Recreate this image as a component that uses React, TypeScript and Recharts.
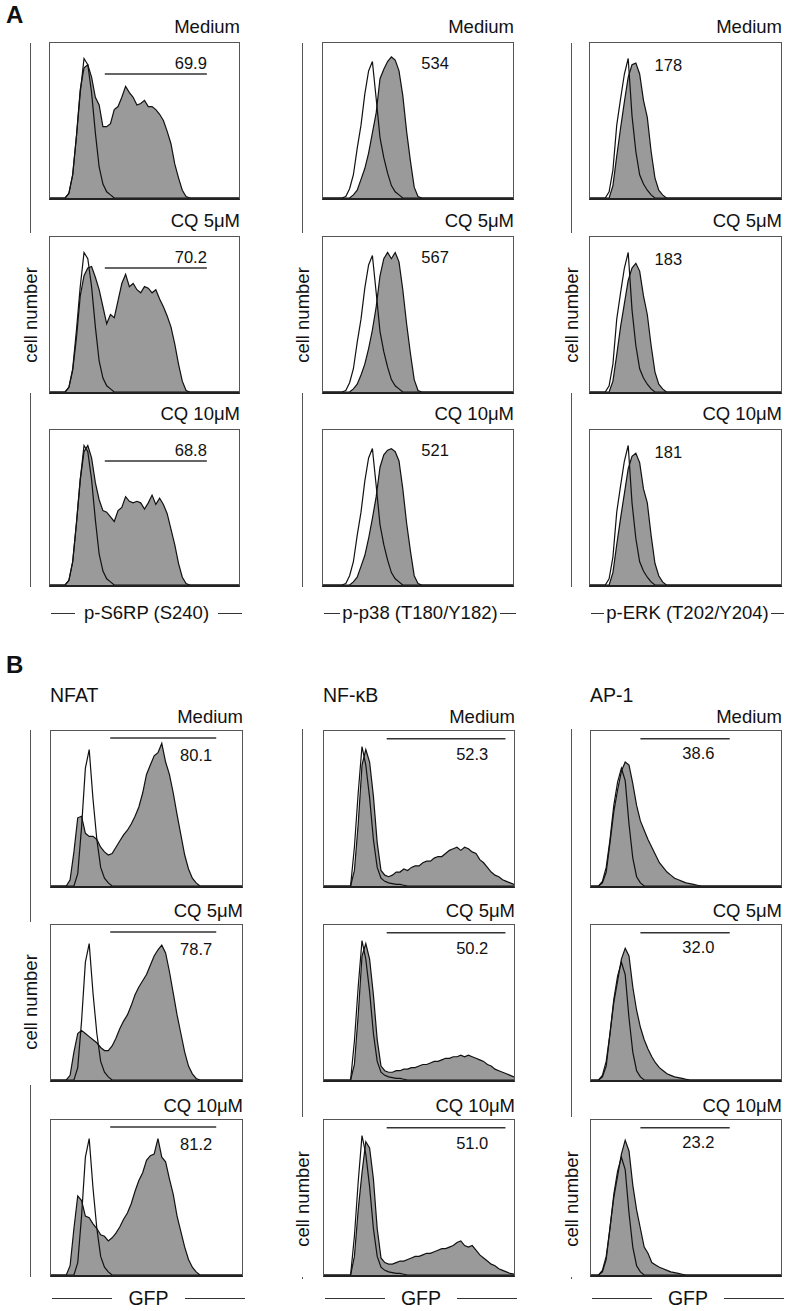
import React from "react";
import { Area, ComposedChart, Line, ReferenceDot, ReferenceLine, XAxis, YAxis } from "recharts";

const FONT = '"Liberation Sans", Arial, Helvetica, sans-serif';

// histogram bins, % of the axis width
const bins = Array.from({ length: 51 }, (_, i) => i * 2);
const pad = (vals: number[]) => [...vals, ...Array(51 - vals.length).fill(0)];

const rowLabels = ["Medium", "CQ 5μM", "CQ 10μM"];

// --- A: p-S6RP (S240)
const s6Ctrl = pad([0, 0, 0, 0, 0, 3, 15, 40, 68, 90, 86, 68, 42, 20, 9, 4, 2]);
const s6Medium = pad([0, 0, 0, 0, 0, 3, 15, 40, 70, 84, 86, 78, 65, 60, 46, 46, 48, 57, 59, 65, 72, 68, 65, 60, 61, 63, 59, 59, 57, 54, 50, 43, 35, 22, 13, 5, 1]);
const s6Cq5 = pad([0, 0, 0, 0, 0, 3, 14, 35, 62, 75, 80, 81, 74, 66, 55, 44, 50, 48, 59, 70, 76, 68, 70, 66, 64, 68, 67, 64, 66, 60, 55, 49, 42, 31, 18, 7, 1]);
const s6Cq10 = pad([0, 0, 0, 0, 0, 3, 15, 40, 68, 86, 90, 82, 66, 55, 48, 47, 44, 41, 48, 50, 57, 54, 53, 54, 53, 49, 53, 58, 52, 56, 52, 46, 36, 26, 14, 5, 1]);
const s6Values = ["69.9", "70.2", "68.8"];

// --- A: p-p38 (T180/Y182)
const p38Ctrl = pad([0, 0, 0, 0, 0, 0, 1, 6, 15, 32, 47, 67, 82, 88, 64, 39, 26, 16, 8, 4, 2]);
const p38Medium = pad([0, 0, 0, 0, 0, 0, 0, 0, 2, 5, 12, 19, 29, 42, 55, 77, 83, 88, 91, 89, 82, 66, 43, 24, 7, 1]);
const p38Cq5 = pad([0, 0, 0, 0, 0, 0, 0, 0, 2, 5, 11, 18, 28, 40, 55, 75, 86, 90, 86, 90, 84, 66, 44, 25, 8, 1]);
const p38Cq10 = pad([0, 0, 0, 0, 0, 0, 0, 0, 2, 5, 12, 19, 30, 43, 57, 76, 84, 87, 88, 86, 80, 62, 40, 22, 6, 1]);
const p38Values = ["534", "567", "521"];

// --- A: p-ERK (T202/Y204)
const erkCtrl = pad([0, 0, 0, 0, 0, 4, 18, 47, 64, 80, 90, 53, 30, 15, 9, 5, 2]);
const erkMedium = pad([0, 0, 0, 0, 0, 0, 8, 27, 45, 62, 78, 86, 87, 80, 63, 52, 30, 13, 5, 2]);
const erkCq5 = pad([0, 0, 0, 0, 0, 0, 7, 24, 42, 57, 72, 80, 83, 78, 62, 50, 30, 13, 5, 2]);
const erkCq10 = pad([0, 0, 0, 0, 0, 0, 8, 26, 43, 59, 75, 83, 85, 79, 62, 53, 32, 14, 6, 2]);
const erkValues = ["178", "183", "181"];

// --- B: NFAT
const nfatCtrl = pad([0, 0, 0, 0, 0, 0, 0, 8, 38, 76, 88, 56, 30, 12, 5, 2]);
const nfatMedium = pad([0, 0, 0, 0, 0, 4, 22, 44, 45, 34, 32, 32, 30, 25, 22, 20, 21, 25, 29, 33, 36, 40, 45, 51, 60, 72, 78, 84, 86, 92, 80, 72, 60, 46, 33, 20, 11, 5, 2]);
const nfatCq5 = pad([0, 0, 0, 0, 0, 3, 18, 30, 32, 30, 28, 26, 24, 21, 19, 19, 22, 27, 33, 38, 42, 48, 55, 60, 64, 68, 74, 80, 84, 87, 82, 70, 56, 42, 30, 18, 9, 4, 1]);
const nfatCq10 = pad([0, 0, 0, 0, 0, 6, 30, 51, 48, 38, 37, 33, 30, 26, 25, 22, 24, 27, 31, 36, 40, 46, 54, 61, 66, 74, 77, 78, 88, 76, 73, 62, 52, 38, 28, 18, 10, 5, 2]);
const nfatValues = ["80.1", "78.7", "81.2"];

// --- B: NF-κB
const nfkbCtrl = pad([0, 0, 0, 0, 0, 0, 0, 0, 25, 60, 90, 78, 57, 30, 12, 5, 3, 2, 1.5, 1, 1, 0.5]);
const nfkbMedium = pad([0, 0, 0, 0, 0, 0, 0, 0, 10, 40, 78, 88, 80, 58, 28, 10, 7, 6, 7, 9, 9, 11, 10, 12, 13, 13, 15, 16, 16, 18, 19, 19, 21, 23, 24, 25, 23, 25, 24, 22, 21, 17, 15, 12, 9, 7, 6, 4, 3, 2, 1]);
const nfkbCq5 = pad([0, 0, 0, 0, 0, 0, 0, 0, 10, 42, 80, 88, 78, 55, 26, 9, 6, 5, 5, 6, 6, 7, 7, 8, 8, 9, 10, 10, 11, 12, 12, 13, 14, 14, 15, 15, 16, 15, 16, 15, 14, 13, 12, 10, 9, 7, 6, 5, 4, 3, 2]);
const nfkbCq10 = pad([0, 0, 0, 0, 0, 0, 0, 0, 12, 42, 66, 86, 82, 62, 30, 11, 8, 7, 7, 8, 9, 9, 10, 11, 12, 12, 13, 14, 14, 15, 16, 17, 17, 18, 19, 21, 22, 19, 18, 19, 16, 13, 11, 9, 7, 6, 4, 3, 2, 1, 0.5]);
const nfkbValues = ["52.3", "50.2", "51.0"];

// --- B: AP-1
const apCtrl = pad([0, 0, 0, 3, 12, 30, 52, 67, 76, 68, 40, 18, 6, 2]);
const apMedium = pad([0, 0, 0, 2, 9, 28, 48, 62, 74, 80, 78, 66, 52, 42, 36, 30, 25, 20, 15, 12, 9, 7, 5, 4, 3, 2, 1.5, 1, 0.5]);
const apCq5 = pad([0, 0, 0, 2, 9, 30, 50, 64, 78, 85, 80, 60, 45, 34, 26, 20, 15, 11, 8, 6, 4, 3, 2, 1.5, 1, 0.5]);
const apCq10 = pad([0, 0, 0, 2, 10, 31, 50, 64, 78, 87, 80, 58, 42, 30, 18, 14, 8, 6.5, 5, 4, 3, 2, 1.5, 1, 0.5]);
const apValues = ["38.6", "32.0", "23.2"];

// gate bars: [from, to, level]
const s6Gate = [29, 83, 80];
const nfatGate = [31, 86.5, 95.5];
const nfkbGate = [33, 95.5, 95];
const apGate = [26, 73, 95];

type Col = {
  ctrl: number[];
  samples: number[][];
  values: string[];
  gate?: number[];
  labelAt: number[];
  axisLabel: string;
  title?: string;
};

const colsA: Col[] = [
  { ctrl: s6Ctrl, samples: [s6Medium, s6Cq5, s6Cq10], values: s6Values, gate: s6Gate, labelAt: [74.5, 87], axisLabel: "p-S6RP (S240)" },
  { ctrl: p38Ctrl, samples: [p38Medium, p38Cq5, p38Cq10], values: p38Values, labelAt: [59, 87], axisLabel: "p-p38 (T180/Y182)" },
  { ctrl: erkCtrl, samples: [erkMedium, erkCq5, erkCq10], values: erkValues, labelAt: [41, 86], axisLabel: "p-ERK (T202/Y204)" },
];

const colsB: Col[] = [
  { ctrl: nfatCtrl, samples: [nfatMedium, nfatCq5, nfatCq10], values: nfatValues, gate: nfatGate, labelAt: [76, 84.5], axisLabel: "GFP", title: "NFAT" },
  { ctrl: nfkbCtrl, samples: [nfkbMedium, nfkbCq5, nfkbCq10], values: nfkbValues, gate: nfkbGate, labelAt: [78, 85], axisLabel: "GFP", title: "NF-κB" },
  { ctrl: apCtrl, samples: [apMedium, apCq5, apCq10], values: apValues, gate: apGate, labelAt: [56.5, 86], axisLabel: "GFP", title: "AP-1" },
];

const layoutA = { lefts: [49, 322, 589], widths: [191, 192, 193], tops: [42, 236, 429], height: 158, labelOffset: 15, axisY: 613, dashGap: [9, 2, 2] };
const layoutB = { lefts: [50, 323, 590], widths: [193, 192, 192], tops: [730, 924, 1119], height: 158, labelOffset: 13, axisY: 1298, dashGap: [16, 16, 16] };

function Hist({ ctrl, sample, width, height, value, gate, labelAt }: { ctrl: number[]; sample: number[]; width: number; height: number; value: string; gate?: number[]; labelAt: number[] }) {
  const data = bins.map((x, i) => ({ x, ctrl: ctrl[i], sample: sample[i] }));
  return (
    <ComposedChart width={width} height={height} data={data} margin={{ top: 0, right: 0, bottom: 0, left: 0 }}>
      <XAxis dataKey="x" type="number" domain={[0, 100]} hide />
      <YAxis type="number" domain={[0, 100]} hide />
      <Area dataKey="ctrl" type="linear" fill="#ffffff" fillOpacity={1} stroke="none" isAnimationActive={false} />
      <Area dataKey="sample" type="linear" fill="#9a9a9a" fillOpacity={1} stroke="#111" strokeWidth={1.2} isAnimationActive={false} />
      <Line dataKey="ctrl" type="linear" stroke="#111" strokeWidth={1.2} dot={false} isAnimationActive={false} />
      {gate ? (
        <ReferenceLine
          segment={[
            { x: gate[0], y: gate[2] },
            { x: gate[1], y: gate[2] },
          ]}
          stroke="#333"
          strokeWidth={1.3}
        />
      ) : null}
      <ReferenceDot
        x={labelAt[0]}
        y={labelAt[1]}
        r={0}
        fill="none"
        stroke="none"
        label={{ value, position: "center", fontSize: 16.5, fill: "#111", fontFamily: FONT }}
      />
    </ComposedChart>
  );
}

function Panel({ cols, layout }: { cols: Col[]; layout: typeof layoutA }) {
  return (
    <>
      {cols.map((col, c) => (
        <React.Fragment key={c}>
          {col.title ? (
            <div style={{ position: "absolute", left: layout.lefts[c], top: layout.tops[0] - 47, height: 24, lineHeight: "24px", fontSize: 19.5 }}>{col.title}</div>
          ) : null}
          {col.samples.map((sample, r) => (
            <React.Fragment key={r}>
              <div
                style={{
                  position: "absolute",
                  left: layout.lefts[c],
                  width: layout.widths[c],
                  top: layout.tops[r] - layout.labelOffset - 11,
                  height: 22,
                  lineHeight: "22px",
                  fontSize: 18.5,
                  textAlign: "right",
                }}
              >
                {rowLabels[r]}
              </div>
              <div
                style={{
                  position: "absolute",
                  left: layout.lefts[c],
                  top: layout.tops[r],
                  width: layout.widths[c],
                  height: layout.height,
                  boxSizing: "border-box",
                  border: "1px solid #555",
                  borderBottom: "2px solid #222",
                }}
              >
                <Hist
                  ctrl={col.ctrl}
                  sample={sample}
                  width={layout.widths[c] - 2}
                  height={layout.height - 3}
                  value={col.values[r]}
                  gate={col.gate}
                  labelAt={col.labelAt}
                />
              </div>
            </React.Fragment>
          ))}
          <div
            style={{
              position: "absolute",
              left: layout.lefts[c] + 2,
              width: layout.widths[c],
              top: layout.axisY - 12,
              height: 24,
              display: "flex",
              alignItems: "center",
              gap: layout.dashGap[c],
            }}
          >
            <div style={{ flex: 1, borderTop: "1px solid #333" }} />
            <div style={{ whiteSpace: "nowrap", fontSize: col.axisLabel === "GFP" ? 19.5 : 18.5 }}>{col.axisLabel}</div>
            <div style={{ flex: 1, borderTop: "1px solid #333" }} />
          </div>
        </React.Fragment>
      ))}
    </>
  );
}

function VLine({ x, y1, y2 }: { x: number; y1: number; y2: number }) {
  return <div style={{ position: "absolute", left: x, top: y1, width: 1, height: y2 - y1, background: "#555" }} />;
}

function CellNumber({ x, y }: { x: number; y: number }) {
  return (
    <div
      style={{
        position: "absolute",
        left: x - 60,
        top: y - 11,
        width: 120,
        height: 22,
        lineHeight: "22px",
        textAlign: "center",
        fontSize: 18.5,
        transform: "rotate(-90deg)",
      }}
    >
      cell number
    </div>
  );
}

const axisXs = [30, 302, 571];

export default function App() {
  return (
    <div style={{ position: "absolute", left: 0, top: 0, width: 787, height: 1311, background: "#fff", fontFamily: FONT, color: "#111", overflow: "hidden" }}>
      <div style={{ position: "absolute", left: 6, top: 2, fontSize: 24, fontWeight: "bold", lineHeight: "26px" }}>A</div>
      <div style={{ position: "absolute", left: 6, top: 652, fontSize: 24, fontWeight: "bold", lineHeight: "26px" }}>B</div>

      {axisXs.map((x) => (
        <React.Fragment key={"a" + x}>
          <VLine x={x} y1={43} y2={233} />
          <CellNumber x={x + 0.5} y={315} />
          <VLine x={x} y1={393} y2={587} />
        </React.Fragment>
      ))}

      <VLine x={axisXs[0]} y1={730} y2={922} />
      <CellNumber x={axisXs[0] + 0.5} y={1002} />
      <VLine x={axisXs[0]} y1={1085} y2={1277} />
      {axisXs.slice(1).map((x) => (
        <React.Fragment key={"b" + x}>
          <VLine x={x} y1={729} y2={1117} />
          <CellNumber x={x + 0.5} y={1199} />
          <VLine x={x} y1={1277} y2={1279} />
        </React.Fragment>
      ))}

      <Panel cols={colsA} layout={layoutA} />
      <Panel cols={colsB} layout={layoutB} />
    </div>
  );
}
